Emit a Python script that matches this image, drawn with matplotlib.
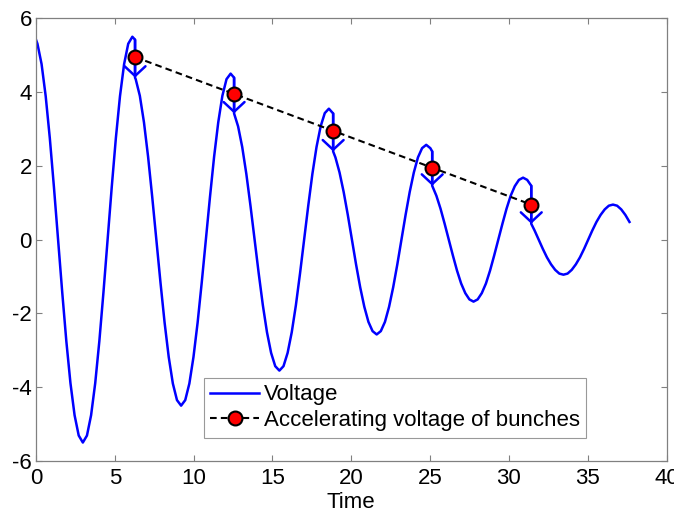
import matplotlib
matplotlib.use("Agg")
import matplotlib.pyplot as plt

plt.rcParams['font.family'] = ['Liberation Sans', 'DejaVu Sans']

# ---- Voltage curve, one list per bunch interval ----
t_seg1 = [0.0, 0.092, 0.354, 0.615, 0.877, 1.139, 1.401, 1.663, 1.924, 2.186, 2.448, 2.710, 2.972,
          3.233, 3.495, 3.757, 4.019, 4.281, 4.542, 4.804, 5.066, 5.328, 5.590, 5.851, 6.113, 6.283]
v_seg1 = [5.42, 5.31, 4.76, 3.89, 2.75, 1.42, 0.0, -1.42, -2.75, -3.89, -4.76, -5.31, -5.50,
          -5.31, -4.76, -3.89, -2.75, -1.42, 0.0, 1.42, 2.75, 3.89, 4.76, 5.31, 5.50, 5.42]

t_seg2 = [6.283, 6.325, 6.587, 6.849, 7.110, 7.372, 7.634, 7.896, 8.158, 8.419, 8.681, 8.943, 9.205,
          9.467, 9.729, 9.990, 10.252, 10.514, 10.776, 11.037, 11.299, 11.561, 11.823, 12.085, 12.346, 12.566]
v_seg2 = [4.39, 4.35, 3.90, 3.18, 2.25, 1.16, 0.0, -1.16, -2.25, -3.18, -3.90, -4.35, -4.50,
          -4.35, -3.90, -3.18, -2.25, -1.16, 0.0, 1.16, 2.25, 3.18, 3.90, 4.35, 4.50, 4.39]

t_seg3 = [12.566, 12.820, 13.082, 13.343, 13.605, 13.867, 14.129, 14.391, 14.652, 14.914, 15.176, 15.438,
          15.700, 15.961, 16.223, 16.485, 16.747, 17.009, 17.270, 17.532, 17.794, 18.056, 18.318, 18.579, 18.850]
v_seg3 = [3.42, 3.07, 2.51, 1.78, 0.92, 0.0, -0.92, -1.78, -2.51, -3.07, -3.43, -3.55,
          -3.43, -3.07, -2.51, -1.78, -0.92, 0.0, 0.92, 1.78, 2.51, 3.07, 3.43, 3.55, 3.42]

t_seg4 = [18.850, 18.993, 19.255, 19.517, 19.779, 20.040, 20.302, 20.564, 20.826, 21.088, 21.349, 21.611,
          21.873, 22.135, 22.397, 22.658, 22.920, 23.182, 23.444, 23.705, 23.967, 24.229, 24.491, 24.753,
          25.014, 25.133]
v_seg4 = [2.39, 2.23, 1.82, 1.29, 0.67, 0.0, -0.67, -1.29, -1.82, -2.23, -2.48, -2.57,
          -2.48, -2.23, -1.82, -1.29, -0.67, 0.0, 0.67, 1.29, 1.82, 2.23, 2.48, 2.57,
          2.48, 2.39]

t_seg5 = [25.133, 25.398, 25.660, 25.922, 26.183, 26.445, 26.707, 26.969, 27.231, 27.492, 27.754,
          28.016, 28.278, 28.540, 28.801, 29.063, 29.325, 29.587, 29.849, 30.110, 30.372, 30.634,
          30.896, 31.158, 31.416]
v_seg5 = [1.46, 1.19, 0.84, 0.43, 0.0, -0.43, -0.84, -1.19, -1.45, -1.62, -1.68,
          -1.62, -1.45, -1.19, -0.84, -0.43, 0.0, 0.43, 0.84, 1.19, 1.45, 1.62,
          1.68, 1.62, 1.46]

t_seg6 = [31.416, 31.625, 31.887, 32.149, 32.410, 32.672, 32.934, 33.196, 33.458, 33.719, 33.981,
          34.243, 34.505, 34.767, 35.028, 35.290, 35.552, 35.814, 36.076, 36.337, 36.599, 36.861,
          37.123, 37.385, 37.646]
v_seg6 = [0.43, 0.25, 0.0, -0.25, -0.48, -0.67, -0.82, -0.92, -0.95, -0.92, -0.82,
          -0.67, -0.48, -0.25, 0.0, 0.25, 0.48, 0.67, 0.82, 0.92, 0.95, 0.92,
          0.82, 0.67, 0.48]

# ---- Bunches ----
bunch_t = [6.283, 12.566, 18.850, 25.133, 31.416]
bunch_v = [4.95, 3.95, 2.95, 1.95, 0.95]
jump_top = [5.42, 4.39, 3.42, 2.39, 1.46]
jump_bottom = [4.39, 3.42, 2.39, 1.46, 0.43]

xticks = [0, 5, 10, 15, 20, 25, 30, 35, 40]
yticks = [-6, -4, -2, 0, 2, 4, 6]

t_all = t_seg1 + t_seg2 + t_seg3 + t_seg4 + t_seg5 + t_seg6
v_all = v_seg1 + v_seg2 + v_seg3 + v_seg4 + v_seg5 + v_seg6

fig = plt.figure(figsize=(6.74, 5.2), dpi=100)
ax = fig.add_axes([0.0534, 0.1135, 0.9356, 0.8513])

blue = (0, 0, 1)
FS = 16
ax.plot(t_all, v_all, color=blue, lw=1.8, label='Voltage', solid_joinstyle='round', zorder=2)

for t, top, bot in zip(bunch_t, jump_top, jump_bottom):
    ax.annotate('', xy=(t, bot), xytext=(t, top),
                arrowprops=dict(arrowstyle='->,head_length=0.7,head_width=0.75',
                                color=blue, lw=1.8, shrinkA=0, shrinkB=0,
                                mutation_scale=10),
                zorder=2)

ax.plot(bunch_t, bunch_v, color='black', ls=(0, (3.2, 2.0)), lw=1.5,
        marker='o', markersize=10, markerfacecolor='red', markeredgecolor='black',
        markeredgewidth=1.5, label='Accelerating voltage of bunches', zorder=3)

ax.set_xlim(0, 40)
ax.set_ylim(-6, 6)
ax.set_xticks(xticks)
ax.set_yticks(yticks)
ax.set_xticklabels([str(v) for v in xticks])
ax.set_yticklabels([str(v) for v in yticks])
ax.tick_params(direction='in', length=4.5, width=0.8, color='#808080',
               top=True, right=True, labelsize=FS, pad=3)
ax.tick_params(axis='x', pad=5)
for s in ax.spines.values():
    s.set_color('#808080')
    s.set_linewidth(0.9)
ax.set_xlabel('Time', fontsize=FS, labelpad=2)

leg = ax.legend(loc='lower left', bbox_to_anchor=(0.266, 0.053), fontsize=FS,
                handlelength=2.2, handletextpad=0.2, borderpad=0.3, labelspacing=0.2,
                frameon=True, fancybox=False, borderaxespad=0)
leg.get_frame().set_edgecolor('#808080')
leg.get_frame().set_linewidth(0.8)

fig.savefig('out.png', dpi=100)
